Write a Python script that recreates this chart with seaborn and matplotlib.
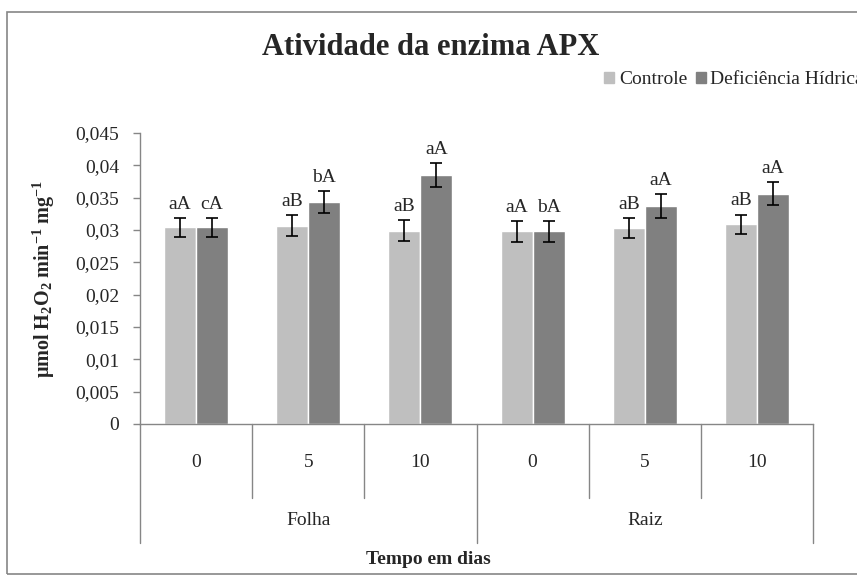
import pandas as pd
import numpy as np
import matplotlib
matplotlib.use("Agg")
import matplotlib.pyplot as plt
import seaborn as sns

# data
orgaos = ["Folha", "Raiz"]
dias = ["0", "5", "10"]
controle = [0.0304, 0.0307, 0.0299, 0.0298, 0.0303, 0.0309]
deficiencia = [0.0304, 0.0343, 0.0385, 0.0298, 0.0337, 0.0356]
erro_controle = [0.0015, 0.0016, 0.0016, 0.0016, 0.0015, 0.0015]
erro_deficiencia = [0.0015, 0.0017, 0.0019, 0.0016, 0.0018, 0.0018]
letras_controle = ["aA", "aB", "aB", "aA", "aB", "aB"]
letras_deficiencia = ["cA", "bA", "aA", "bA", "aA", "aA"]
tratamentos = ["Controle", "Deficiência Hídrica"]

sns.set_style("white")
plt.rcParams["font.family"] = ["Liberation Serif", "DejaVu Serif"]
plt.rcParams["mathtext.default"] = "regular"

cats = [o + " " + d for o in orgaos for d in dias]
df = pd.DataFrame({
    "cat": cats * 2,
    "trat": [tratamentos[0]] * 6 + [tratamentos[1]] * 6,
    "valor": controle + deficiencia,
})

largura = 0.57
fig = plt.figure(figsize=(8.57, 5.76), dpi=100)
ax = fig.add_axes([0.1634, 0.2639, 0.9487 - 0.1634, 0.769 - 0.2639])

sns.barplot(data=df, x="cat", y="valor", hue="trat", order=cats,
            hue_order=tratamentos,
            palette=["#BFBFBF", "#808080"], width=largura, saturation=1,
            errorbar=None, ax=ax, legend=False)

erros = [erro_controle, erro_deficiencia]
letras = [letras_controle, letras_deficiencia]
vals = [controle, deficiencia]
for k in range(2):
    for i in range(6):
        xc = i + (k - 0.5) * largura / 2
        ax.errorbar(xc, vals[k][i], yerr=erros[k][i], fmt="none",
                    ecolor="black", elinewidth=1.2, capsize=4, capthick=1.2)
        ax.text(xc, vals[k][i] + erros[k][i] + 0.0008, letras[k][i],
                ha="center", va="bottom", fontsize=14)

ax.set_ylim(0, 0.045)
ax.set_xlim(-0.5, 5.5)
ax.set_yticks(np.arange(0, 0.0451, 0.005))
ax.set_yticklabels(["0"] + [("%g" % t).replace(".", ",") for t in np.arange(0.005, 0.0451, 0.005)],
                   fontsize=14)
ax.tick_params(axis="y", length=5, width=1, color="#868686", direction="out", left=True, pad=10)
ax.set_xticks([])
ax.set_xlabel("")
ax.set_ylabel("μmol H$_2$O$_2$ min$^{-1}$ mg$^{-1}$", fontsize=14.5, fontweight="bold", labelpad=13)
for s in ["top", "right"]:
    ax.spines[s].set_visible(False)
for s in ["left", "bottom"]:
    ax.spines[s].set_color("#868686")
    ax.spines[s].set_linewidth(1)

# multilevel category axis
trans = ax.get_xaxis_transform()
for i in range(7):
    longo = i % 3 == 0
    y_end = -0.41 if longo else -0.255
    ax.plot([i - 0.5, i - 0.5], [0, y_end], color="#868686", lw=1,
            transform=trans, clip_on=False)
for i, c in enumerate(cats):
    ax.text(i, -0.134, dias[i % 3], transform=trans, ha="center", va="center", fontsize=14)
for j, o in enumerate(orgaos):
    ax.text(j * 3 + 1, -0.33, o, transform=trans, ha="center", va="center", fontsize=14)
fig.text(0.5, 0.028, "Tempo em dias", ha="center", va="center", fontsize=14, fontweight="bold")

fig.text(0.503, 0.918, "Atividade da enzima APX", ha="center", va="center",
         fontsize=22, fontweight="bold")

handles = [plt.Rectangle((0, 0), 1, 1, color=c) for c in ["#BFBFBF", "#808080"]]
fig.legend(handles, tratamentos, loc="center left", bbox_to_anchor=(0.696, 0.862),
           frameon=False, fontsize=14, handlelength=0.5, handleheight=0.5,
           handletextpad=0.25, columnspacing=0.45, ncol=2, borderaxespad=0)

# chart frame
fig.patches.append(plt.Rectangle((0.008, 0.004), 1.2, 0.975, transform=fig.transFigure,
                                 fill=False, edgecolor="#868686", lw=1.2))

fig.savefig("out.png", dpi=100)
